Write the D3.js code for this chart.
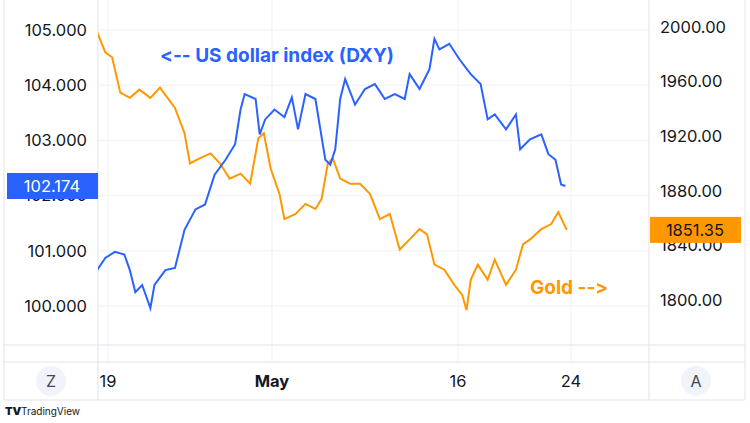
<!DOCTYPE html>
<html><head><meta charset="utf-8">
<script src="https://cdn.jsdelivr.net/npm/d3@7"></script>
<style>body{margin:0;background:#fff;font-family:Inter,"Noto Sans",sans-serif}text{font-feature-settings:"calt" 0,"liga" 0;font-variant-ligatures:none}</style>
</head><body><svg id="c" width="750" height="423"></svg>
<script>
// day numbers: April day, May = 30 + day
const dxyDays=[18.2,18.8,19.5,20.2,20.6,21.0,21.5,22.1,22.4,23.2,23.9,24.6,25.4,26.1,26.8,27.6,28.3,28.7,29.0,29.8,30.1,30.5,31.2,32.0,32.6,33.1,33.7,34.5,35.3,35.7,36.1,36.5,36.9,37.7,38.5,39.3,40.1,40.9,41.7,42.1,42.9,43.7,44.1,44.5,45.3,46.1,46.9,47.6,48.1,48.6,49.4,50.1,50.4,51.1,51.9,52.4,52.9,53.3,53.6];
const dxyValues=[100.65,100.87,100.98,100.93,100.65,100.25,100.38,99.96,100.38,100.65,100.69,101.38,101.75,101.84,102.38,102.65,102.93,103.56,103.84,103.75,103.11,103.38,103.56,103.42,103.78,103.2,103.84,103.75,102.65,102.56,102.84,103.75,104.11,103.65,103.93,104.02,103.75,103.84,103.75,104.2,103.93,104.29,104.84,104.65,104.75,104.47,104.2,104.02,103.38,103.47,103.2,103.47,102.84,103.02,103.11,102.75,102.65,102.2,102.174];
const goldDays=[18.2,18.8,19.3,19.9,20.6,21.3,22.1,22.8,23.9,24.6,25.0,25.7,26.5,27.2,27.9,28.7,29.4,30.0,30.4,30.9,31.6,32.0,32.9,33.7,34.5,35.0,35.5,35.9,36.5,37.3,38.1,38.9,39.7,40.5,41.3,42.1,42.9,43.5,44.1,44.9,45.7,46.3,46.6,46.9,47.4,48.1,48.6,49.4,50.1,50.6,51.1,51.9,52.6,53.1,53.5,53.7];
const goldValues=[1996.3,1981.5,1977.8,1951.9,1948.1,1954.1,1948.1,1955.6,1940.7,1922.2,1900,1903.7,1907.4,1900,1888.9,1892.6,1885.2,1918.5,1922.2,1896.3,1877.8,1859.3,1863,1870.4,1866.7,1874.1,1900,1903.7,1888.9,1885.2,1885.2,1877.8,1859.3,1863,1837,1844.4,1851.9,1848.1,1825.9,1822.2,1811.1,1803.7,1792.6,1814.8,1825.9,1814.8,1829.6,1811.1,1822.2,1840.7,1844.4,1851.9,1855.6,1864.4,1855.6,1851.35];
const leftTicks=[100,101,102,103,104,105];
const rightTicks=[1800,1840,1880,1920,1960,2000];
const xTickDays=[19,31,46,54];
const xTickLabels=["19","May","16","24"];

const svg=d3.select("#c");
const L=98,R=649,B=345;
const x=d3.scaleLinear().domain([19,31,46,54]).range([108,272,458,571]);
const yL=d3.scaleLinear().domain([100,105]).range([306,30]);
const yR=d3.scaleLinear().domain([1800,2000]).range([300,27]);
const grid="#f0f1f4", border="#e0e3eb", txt="#131722";

svg.selectAll(".hg").data(leftTicks).join("line").attr("x1",L).attr("x2",R).attr("y1",d=>yL(d)).attr("y2",d=>yL(d)).attr("stroke",grid);
svg.selectAll(".vg").data(xTickDays).join("line").attr("x1",d=>x(d)).attr("x2",d=>x(d)).attr("y1",0).attr("y2",362).attr("stroke",grid);
[[4,B,745,B],[4,362,745,362],[4,400,745,400]].forEach(a=>svg.append("line").attr("x1",a[0]).attr("y1",a[1]).attr("x2",a[2]).attr("y2",a[3]).attr("stroke",border));
[L,R].forEach(v=>svg.append("line").attr("x1",v).attr("x2",v).attr("y1",0).attr("y2",400).attr("stroke",border));
[4,745].forEach(v=>svg.append("line").attr("x1",v).attr("x2",v).attr("y1",0).attr("y2",400).attr("stroke",border));

svg.selectAll(".lt").data(leftTicks).join("text").attr("x",87).attr("y",d=>yL(d)).attr("dy","0.35em").attr("text-anchor","end").attr("font-size",16.5).attr("fill",txt).text(d=>d3.format(".3f")(d));
svg.selectAll(".rt").data(rightTicks).join("text").attr("x",660).attr("y",d=>yR(d)).attr("dy","0.35em").attr("font-size",16.5).attr("fill",txt).text(d=>d3.format(".2f")(d));
svg.selectAll(".xt").data(xTickDays).join("text").attr("x",d=>x(d)).attr("y",381).attr("dy","0.35em").attr("text-anchor","middle").attr("font-size",16.5).attr("font-weight",(d,i)=>i==1?"bold":"normal").attr("fill",txt).text((d,i)=>xTickLabels[i]);

svg.append("clipPath").attr("id","cl").append("rect").attr("x",L).attr("y",0).attr("width",R-L).attr("height",B);
const lineL=d3.line().x((d,i)=>x(dxyDays[i])).y(d=>yL(d));
const lineR=d3.line().x((d,i)=>x(goldDays[i])).y(d=>yR(d));
svg.append("path").attr("clip-path","url(#cl)").attr("d",lineR(goldValues)).attr("fill","none").attr("stroke","#ff9800").attr("stroke-width",2);
svg.append("path").attr("clip-path","url(#cl)").attr("d",lineL(dxyValues)).attr("fill","none").attr("stroke","#2962ff").attr("stroke-width",2);

svg.append("text").attr("x",160).attr("y",62).attr("font-size",19).attr("font-weight","bold").attr("fill","#2962ff").text("<-- US dollar index (DXY)");
svg.append("text").attr("x",530).attr("y",294).attr("font-size",19).attr("font-weight","bold").attr("fill","#ff9800").text("Gold -->");

const lv=dxyValues[dxyValues.length-1], gv=goldValues[goldValues.length-1];
svg.append("rect").attr("x",7).attr("y",yL(lv)-13).attr("width",91).attr("height",26).attr("fill","#2962ff");
svg.append("text").attr("x",52).attr("y",yL(lv)).attr("dy","0.35em").attr("text-anchor","middle").attr("font-size",16.5).attr("fill","#fff").text(d3.format(".3f")(lv));
svg.append("rect").attr("x",650).attr("y",yR(gv)-13).attr("width",91).attr("height",26).attr("fill","#ff9800");
svg.append("text").attr("x",695).attr("y",yR(gv)).attr("dy","0.35em").attr("text-anchor","middle").attr("font-size",16.5).attr("fill",txt).text(d3.format(".2f")(gv));

[[51,"Z"],[696,"A"]].forEach(b=>{svg.append("circle").attr("cx",b[0]).attr("cy",381).attr("r",15).attr("fill","#f0f3fa");
svg.append("text").attr("x",b[0]).attr("y",381).attr("dy","0.35em").attr("text-anchor","middle").attr("font-size",16).attr("fill","#434651").text(b[1]);});
svg.append("text").attr("x",5).attr("y",415).attr("font-size",11).attr("font-weight","900").attr("fill",txt).text("TV");
svg.append("text").attr("x",21).attr("y",415).attr("font-size",10).attr("fill",txt).text("TradingView");
</script></body></html>
